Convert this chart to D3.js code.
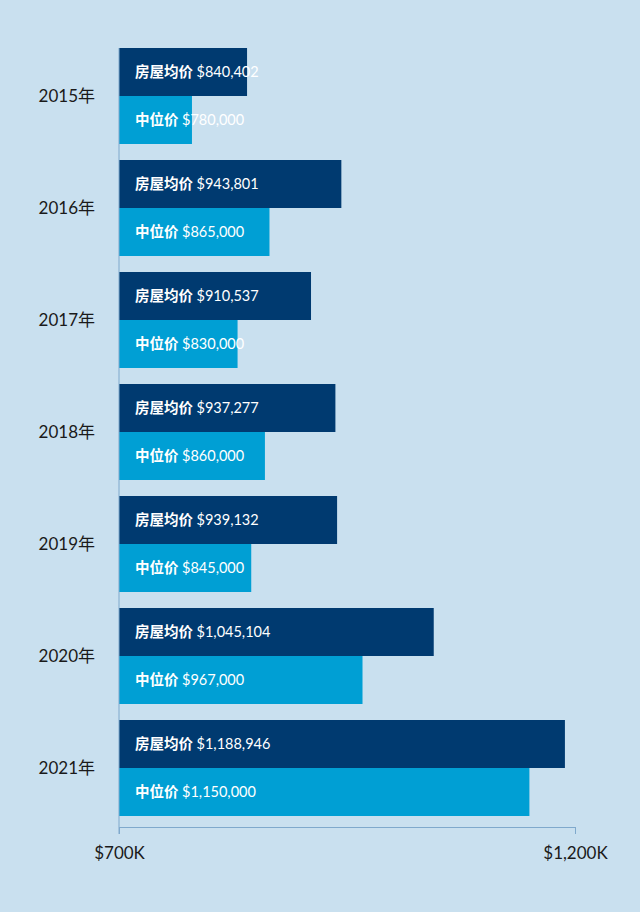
<!DOCTYPE html>
<html><head><meta charset="utf-8">
<script src="https://cdn.jsdelivr.net/npm/d3@7"></script>
<style>body{margin:0;background:#c9e0ef;}</style>
</head><body>
<script>
const years = ["2015年","2016年","2017年","2018年","2019年","2020年","2021年"];
const avgPrice = [840402, 943801, 910537, 937277, 939132, 1045104, 1188946];
const medianPrice = [780000, 865000, 830000, 860000, 845000, 967000, 1150000];
const tickValues = [700000, 1200000];
const tickLabels = ["$700K", "$1,200K"];

const svg = d3.select("body").append("svg").attr("width", 640).attr("height", 912);
const font = "Lato, 'Noto Sans CJK SC', sans-serif";

const x = d3.scaleLinear().domain([700000, 1200000]).range([119, 575]);
const y = d3.scaleBand().domain(years).range([48, 832]).paddingInner(0).paddingOuter(0);
const fmt = d3.format(",");

const g = svg.append("g");
years.forEach((yr, i) => {
  const y0 = y(yr), h = 48;
  g.append("rect").attr("x", x(700000)).attr("y", y0).attr("width", x(avgPrice[i]) - x(700000)).attr("height", h).attr("fill", "#003a70");
  g.append("rect").attr("x", x(700000)).attr("y", y0 + h).attr("width", x(medianPrice[i]) - x(700000)).attr("height", h).attr("fill", "#009fd4");
  const t1 = g.append("text").attr("x", 135).attr("y", y0 + 29).attr("fill", "#fff").attr("font-family", font).attr("font-size", 14.5);
  t1.append("tspan").attr("font-weight", "bold").text("房屋均价 ");
  t1.append("tspan").text("$" + fmt(avgPrice[i]));
  const t2 = g.append("text").attr("x", 135).attr("y", y0 + h + 29).attr("fill", "#fff").attr("font-family", font).attr("font-size", 14.5);
  t2.append("tspan").attr("font-weight", "bold").text("中位价 ");
  t2.append("tspan").text("$" + fmt(medianPrice[i]));
  g.append("text").attr("x", 95).attr("y", y0 + h + 6).attr("text-anchor", "end").attr("fill", "#1a1a1a").attr("font-family", font).attr("font-size", 17).text(yr);
});

// axis
svg.append("line").attr("x1", 119).attr("x2", 119).attr("y1", 48).attr("y2", 834).attr("stroke", "#7fa9cc");
const axis = svg.append("g").attr("transform", "translate(0,827)")
  .call(d3.axisBottom(x).tickValues(tickValues).tickSize(7).tickFormat((d, i) => tickLabels[i]));
axis.select(".domain").attr("stroke", "#7fa9cc");
axis.selectAll(".tick line").attr("stroke", "#7fa9cc");
axis.selectAll(".tick text").attr("font-family", font).attr("font-size", 17).attr("fill", "#1a1a1a").attr("dy", "1.3em");
</script>
</body></html>
